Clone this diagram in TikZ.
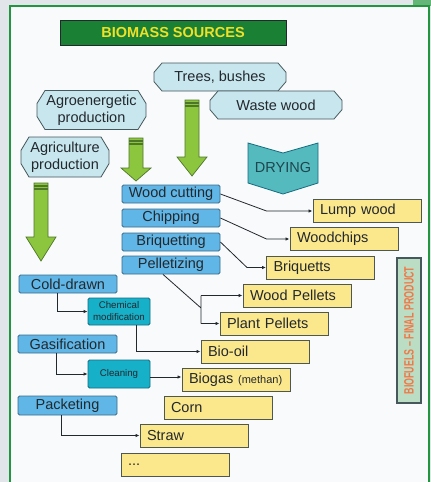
\documentclass[tikz,border=0pt]{standalone}
\usepackage{fontspec}
\setmainfont{Liberation Sans}
\usetikzlibrary{arrows.meta}
\definecolor{bggrey}{RGB}{226,229,233}
\definecolor{framegreen}{RGB}{34,150,62}
\definecolor{paper}{RGB}{248,250,252}
\definecolor{txt}{RGB}{35,40,45}
\definecolor{titlegreen}{RGB}{26,128,52}
\definecolor{titleyellow}{RGB}{240,224,40}
\definecolor{sourceblue}{RGB}{200,230,238}
\definecolor{edgegrey}{RGB}{70,88,92}
\definecolor{procblue}{RGB}{96,182,230}
\definecolor{procedge}{RGB}{60,108,138}
\definecolor{tealbox}{RGB}{22,176,200}
\definecolor{tealedge}{RGB}{22,108,128}
\definecolor{prodyellow}{RGB}{251,231,140}
\definecolor{prodedge}{RGB}{78,88,80}
\definecolor{arrowgreen}{RGB}{140,198,62}
\definecolor{arrowedge}{RGB}{78,118,40}
\definecolor{dryteal}{RGB}{84,186,190}
\definecolor{drytext}{RGB}{30,70,78}
\definecolor{fuelgreen}{RGB}{186,221,196}
\definecolor{fuelorange}{RGB}{240,120,70}
\newcommand{\greenarrow}[4]{% x, top, head, tip
  \draw[arrowedge, fill=arrowgreen, line width=0.7pt]
    (#1-7,#2) -- (#1+7,#2) -- (#1+7,#3) -- (#1+15,#3) -- (#1,#4)
    -- (#1-15,#3) -- (#1-7,#3) -- cycle;
  \draw[arrowedge, line width=1.1pt] (#1-7,#2+3) -- (#1+7,#2+3) (#1-7,#2+6) -- (#1+7,#2+6);}
\newcommand{\sourcebox}[6]{% name, x, y, width, height, text
  \draw[edgegrey, fill=sourceblue, line width=0.8pt]
    (#2-#4/2+8,#3-#5/2) -- (#2+#4/2-8,#3-#5/2) -- (#2+#4/2,#3-#5/6) -- (#2+#4/2,#3+#5/6)
    -- (#2+#4/2-8,#3+#5/2) -- (#2-#4/2+8,#3+#5/2) -- (#2-#4/2,#3+#5/6)
    -- (#2-#4/2,#3-#5/6) -- cycle;
  \node[source, minimum width=#4pt, minimum height=#5pt] (#1) at (#2,#3) {#6};}

\begin{document}
\begin{tikzpicture}[x=1pt, y=-1pt, font=\fontsize{14.5}{17.5}\selectfont,
  title/.style={draw=txt, fill=titlegreen, line width=1pt, minimum width=226pt,
    minimum height=25pt, inner sep=0pt, text=titleyellow, font=\fontsize{14.5}{17.5}\selectfont\bfseries},
  source/.style={inner sep=0pt, align=center, text=txt},
  process/.style={draw=procedge, fill=procblue, rounded corners=1.5pt, line width=0.8pt,
    minimum width=98pt, minimum height=18pt, inner sep=0pt, text=txt},
  treat/.style={process, fill=tealbox, draw=tealedge, minimum width=62pt,
    minimum height=27pt, align=center, font=\fontsize{9.7}{12}\selectfont},
  product/.style={draw=prodedge, fill=prodyellow, line width=1pt, text width=94pt,
    inner xsep=7pt, inner ysep=0pt, minimum height=23pt, align=left, text=txt},
  conn/.style={draw=txt, line width=0.8pt, -{Latex[length=4pt,width=3.5pt]}}
  ]
  % background and frame
  \useasboundingbox (0,0) rectangle (431,482);
  \fill[bggrey] (0,0) rectangle (431,482);
  \fill[framegreen!70] (413,0) rectangle (431,6);
  \draw[framegreen, fill=paper, line width=2pt] (10,5.5) rectangle (429,495);

  \node[title] (title) at (173,32.5) {BIOMASS SOURCES};

  % sources
  \sourcebox{trees}{220}{77}{132}{28}{Trees, bushes}
  \sourcebox{waste}{276}{105}{132}{28}{Waste wood}
  \sourcebox{agro}{91.5}{110}{109}{39}{Agroenergetic\\production}
  \sourcebox{agri}{65}{157}{88}{40}{Agriculture\\production}

  \greenarrow{192}{100}{157}{176}
  \greenarrow{136}{138}{168}{181}
  \greenarrow{41}{183}{237}{261}

  % drying
  \draw[tealedge, fill=dryteal, line width=0.8pt] (248,143) -- (283,153) -- (318,143)
    -- (318,183) -- (283,194) -- (248,183) -- cycle;
  \node[text=drytext] (drying) at (283,168) {DRYING};

  % processes
  \node[process] (cutting) at (171,194) {Wood cutting};
  \node[process] (chipping) at (171,218) {Chipping};
  \node[process] (briq) at (171,242) {Briquetting};
  \node[process] (pellet) at (171,265) {Pelletizing};
  \node[process] (cold) at (68,284) {Cold-drawn};
  \node[treat] (chem) at (119,311.5) {Chemical\\modification};
  \node[process, minimum width=99pt] (gas) at (67.5,344) {Gasification};
  \node[treat, minimum height=28pt] (clean) at (119,374) {Cleaning};
  \node[process, minimum width=99pt, minimum height=19pt] (pack) at (67.5,405.5) {Packeting};

  % products
  \node[product] (lump) at (367,211) {Lump wood};
  \node[product] (chips) at (344,239) {Woodchips};
  \node[product] (briqs) at (320.5,267.5) {Briquetts};
  \node[product] (woodp) at (297,295.5) {Wood Pellets};
  \node[product] (plantp) at (274,323.5) {Plant Pellets};
  \node[product] (oil) at (255,351.5) {Bio-oil};
  \node[product] (biogas) at (236,379.5) {Biogas {\fontsize{11}{12}\selectfont(methan)}};
  \node[product] (corn) at (218,408) {Corn};
  \node[product] (straw) at (194,435.5) {Straw};
  \node[product] (more) at (175,464.5) {...};

  \node[draw=edgegrey, fill=fuelgreen, line width=1.5pt, rotate=90, minimum width=145pt,
    minimum height=24pt, inner sep=0pt, text=fuelorange] (fuels) at (409,330.5)
    {\scalebox{0.66}[1]{\fontsize{13.5}{14}\selectfont\bfseries BIOFUELS -- FINAL PRODUCT}};

  % connectors
  \draw[conn] (cutting.east) -- ([xshift=-46pt]lump.west) -- (lump.west);
  \draw[conn] (chipping.east) -- ([xshift=-23pt]chips.west) -- (chips.west);
  \draw[conn] (briq.east) -- ([xshift=-19pt]briqs.west) -- (briqs.west);
  \coordinate (split) at (201,308);
  \draw[draw=txt, line width=0.8pt] ([xshift=-8pt]pellet.south) -- (split)
    (split |- woodp.west) -- (split |- plantp.west);
  \draw[conn] (split |- woodp.west) -- (woodp.west);
  \draw[conn] (split |- plantp.west) -- (plantp.west);
  \draw[conn] ([xshift=-11pt]cold.south) |- (chem.west);
  \draw[conn] ([xshift=17pt]chem.south) |- (oil.west);
  \draw[conn] ([xshift=-11pt]gas.south) |- (clean.west);
  \draw[conn] ([yshift=-3pt]clean.east) -- ([yshift=-3pt]clean.east -| biogas.west);
  \draw[conn] ([xshift=-6.5pt]pack.south) |- (straw.west);
\end{tikzpicture}
\end{document}
